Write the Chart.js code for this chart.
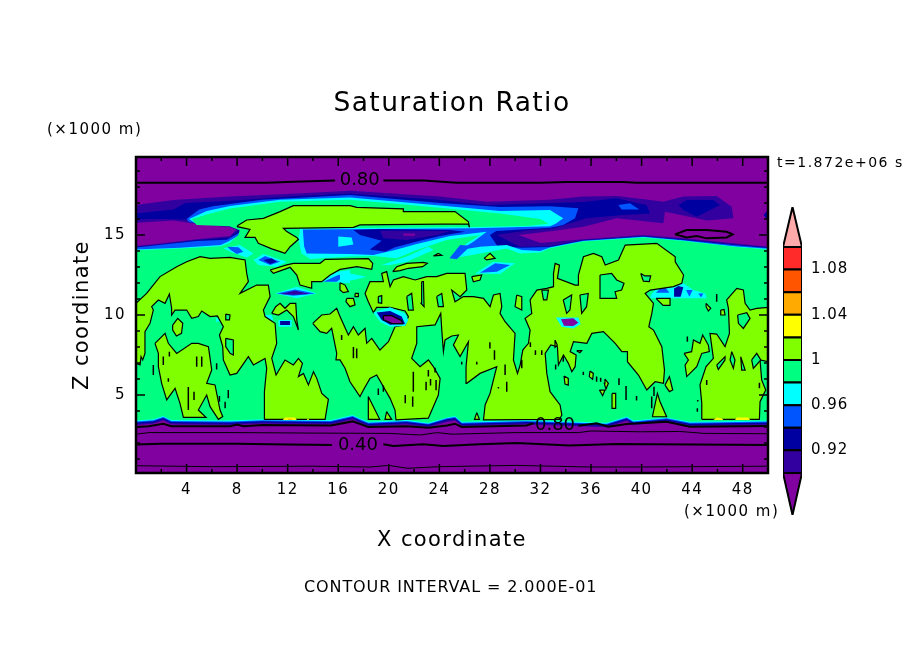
<!DOCTYPE html>
<html>
<head>
<meta charset="utf-8">
<title>Saturation Ratio</title>
<script src="https://cdn.jsdelivr.net/npm/chart.js@4"></script>
<style>
html, body { margin: 0; background: #fff; }
canvas { position: absolute; }
.note { position: absolute; font-family: 'DejaVu Sans'; color: #000; white-space: nowrap; line-height: 1; }
</style>
</head>
<body>
<canvas id="fieldChart" width="904" height="654" style="left:0;top:0"></canvas>
<canvas id="barChart" width="134" height="320" style="left:770px;top:200px"></canvas>
<div class="note" style="left:47px;top:122px;font-size:15px;letter-spacing:1.5px">(×1000 m)</div>
<div class="note" style="left:684px;top:504px;font-size:15px;letter-spacing:1.5px">(×1000 m)</div>
<div class="note" style="left:777px;top:155px;font-size:14px;letter-spacing:1.5px">t=1.872e+06 s</div>
<div class="note" style="left:304px;top:579px;font-size:16px;letter-spacing:0.9px">CONTOUR INTERVAL = 2.000E-01</div>
<script>
// colours of the contour levels
const PURPLE = '#8000a0', INDIGO = '#3300a0', NAVY = '#0000a0', BLUE = '#0055ff', CYAN = '#00ffff';
const GREEN = '#00ff80', LIME = '#80ff00', YELLOW = '#ffff00', ORANGE = '#ffaa00';

// colour bar
const levelEdges = [0.90, 0.92, 0.94, 0.96, 0.98, 1.00, 1.02, 1.04, 1.06, 1.08, 1.10];
const levelColors = [INDIGO, NAVY, BLUE, CYAN, GREEN, LIME, YELLOW, ORANGE, '#ff5500', '#ff2a2a'];
const levelLabels = [0.92, 0.96, 1, 1.04, 1.08];

// lower edge of the bands, above the boundary layer (x in km, one z list per band)
const floorX = [0, 1.37, 2.16, 2.8, 7.44, 10, 15.4, 17.14, 17.7, 18.38, 21.4, 23.13, 24.6, 25.24, 25.77, 30.9, 37.24, 38.82, 39.35, 41.98, 43.83, 50];
const floorGreen = [3.4, 3.48, 3.69, 3.44, 3.4, 3.48, 3.44, 3.75, 3.54, 3.33, 3.44, 3.27, 3.6, 3.69, 3.33, 3.44, 3.27, 3.65, 3.4, 3.6, 3.33, 3.4];
const floorCyan = [3.34, 3.42, 3.63, 3.38, 3.34, 3.42, 3.38, 3.69, 3.48, 3.27, 3.38, 3.21, 3.54, 3.63, 3.27, 3.38, 3.21, 3.59, 3.34, 3.54, 3.27, 3.34];
const floorBlue = [3.28, 3.36, 3.57, 3.32, 3.28, 3.36, 3.32, 3.63, 3.42, 3.21, 3.32, 3.15, 3.48, 3.57, 3.21, 3.32, 3.15, 3.53, 3.28, 3.48, 3.21, 3.28];
const floorNavy = [3.2, 3.28, 3.49, 3.24, 3.2, 3.28, 3.24, 3.55, 3.34, 3.13, 3.24, 3.07, 3.4, 3.49, 3.13, 3.24, 3.07, 3.45, 3.2, 3.4, 3.13, 3.2];
const floorIndigo = [3.12, 3.2, 3.41, 3.16, 3.12, 3.2, 3.16, 3.47, 3.26, 3.05, 3.16, 2.99, 3.32, 3.41, 3.05, 3.16, 2.99, 3.37, 3.12, 3.32, 3.05, 3.12];

// upper edge of each band, left side to right side [x, z]
const indigoTop = [[0,14.31],[2.16,14.48],[4.8,14.73],[7.44,14.94],[7.92,15.31],[7.44,15.48],[4.8,15.69],[2.96,15.9],[0,15.77],[0,16.88],[2.96,17.19],[7.44,17.4],[12.72,17.6],[16.94,17.77],[24.06,17.4],[27.75,17.08],[32.75,17.2],[35.39,17.4],[38.03,17.44],[40.67,17.19],[41.72,17.08],[43.3,17.4],[45.94,17.44],[47.13,16.77],[47.26,16.04],[45.15,15.9],[44.36,16.04],[41.85,16.46],[41.72,15.73],[38.03,16.04],[35.39,15.52],[33,15.25],[30.26,15],[32,14.5],[35.39,14.73],[40.14,15],[43.3,14.79],[47.26,14.48],[50,14.27]];
const navyTop = [[0,14.27],[2.16,14.44],[4.8,14.69],[7.44,14.85],[8.1,15.31],[7.44,15.6],[4.8,15.85],[3.88,15.95],[2.16,16],[0,15.98],[0,16.35],[2.96,16.6],[3.9,17],[7.44,17.14],[12.72,17.44],[16.94,17.6],[24.06,17.19],[27.75,16.88],[32.75,17],[35.39,17.06],[38,17.29],[40.4,16.88],[40.67,16.35],[38.55,16.25],[35.65,16.04],[33,15.4],[31,15.3],[28.54,15],[30.39,14.27],[32.75,14.29],[35.39,14.69],[40.14,14.94],[43.3,14.73],[47.26,14.42],[50,14.23]];
const blueTop = [[0,14.22],[2.16,14.4],[4.8,14.62],[7.2,14.7],[8.3,15.2],[8.2,15.45],[7.4,15.65],[4.2,15.8],[4,16],[5,16.6],[6.1,16.8],[10,17.2],[16.94,17.5],[24.06,17],[28.8,16.75],[32.75,16.8],[35,16.67],[34.73,16.04],[33.8,15.63],[32.75,15.45],[28.5,15.25],[28,15],[28.6,14.3],[30.5,14.2],[32.75,14.25],[35.39,14.65],[40.14,14.9],[43.3,14.69],[47.26,14.38],[50,14.19]];
const cyanTop = [[0,14.1],[3.5,14.2],[6.7,14.37],[7.3,14.6],[8.2,15],[8.3,15.35],[7.4,15.6],[4.7,15.72],[4.2,16],[5.6,16.5],[7.44,16.82],[11.4,17.2],[16.94,17.35],[24.06,16.85],[28.8,16.5],[32.75,16.56],[33.8,16.04],[33.2,15.7],[32.75,15.55],[26.7,15.42],[13.2,15.35],[13.3,14.3],[13.5,13.85],[16.94,13.81],[18.78,13.75],[20.49,14.06],[22.21,14.44],[24.85,14.94],[27.75,15.2],[26.69,14.58],[25.64,14.06],[27.22,14.27],[29.33,14.37],[30.52,14.06],[31.97,14],[32.75,14.22],[35.39,14.63],[40.14,14.88],[43.3,14.65],[47.26,14.3],[50,14.14]];
const greenTop = [[0,14.05],[3.5,14.15],[6.7,14.3],[7.4,14.5],[8.1,15],[8.2,15.3],[7.4,15.55],[4.8,15.62],[4.4,16],[5.86,16.35],[7.44,16.65],[11.4,17.08],[16.94,17.2],[24.06,16.7],[28.8,16.35],[32,16],[32.63,15.7],[30.92,15.56],[26.7,15.5],[13,15.4],[12.85,14.73],[12.95,14.3],[13.1,13.85],[13.8,13.5],[16.94,13.65],[18.78,13.69],[20.63,13.54],[22.21,14.06],[24.58,14.69],[27.22,15],[26.17,14.48],[25.11,13.54],[27.22,13.85],[29.33,14.16],[30.39,13.85],[31.97,13.9],[32.75,14.17],[35.39,14.6],[40.14,14.85],[43.3,14.62],[47.26,14.27],[50,14.1]];

// patches lying on the bands
const navyRight = [[42.91,16.87],[43.57,17.19],[45.68,17.19],[46.2,16.87],[45.15,16.46],[44.36,16.14],[43.3,16.56]];
const navyEdge = [[49.64,16.25],[50,16.56],[50,15.93]];
const blueUpper = [[38.16,16.87],[39.08,16.98],[39.82,16.6],[38.42,16.6]];
const navyCentre = [[17.2,15.31],[19.31,15.37],[24.85,15.31],[26.03,15.2],[24.06,14.93],[22.47,14.64],[20.49,14.23],[19.7,13.96],[18.51,14.1],[19.44,14.64],[17.72,15]];
const indigoCentre = [[19.31,15.27],[24.85,15.25],[23.79,15],[21.42,14.69],[19.57,14.79]];
const purpleCentre = [[21.15,15.1],[22.08,15.1],[22.08,14.96],[21.15,14.96]];
const cyanCentre = [[16,14.9],[17.06,14.85],[17.2,14.4],[16,14.27]];
const blueStripeA = [[25.64,14.37],[26.48,14.33],[25.37,13.48],[24.8,13.54]];
const cyanStripeB = [[26.83,12.6],[28.28,13.33],[29.99,13.23],[28.8,12.56]];
const blueStripeB = [[27.22,12.64],[28.41,13.23],[29.6,13.12],[28.54,12.71]];
const cyanStreak = [[19.44,13.12],[21.42,13.65],[23.13,14.27],[23.53,14.06],[21.42,13.33],[20.1,13.12]];
const cyanBlobA = [[9.29,13.44],[10.08,13.81],[11.93,13.33],[11.13,13.02],[9.68,13.12]];
const blueBlobA = [[9.68,13.44],[10.21,13.69],[11.4,13.33],[10.61,13.13]];
const navyBlobA = [[10.08,13.44],[10.74,13.54],[11.13,13.33],[10.61,13.19]];
const cyanBlobB = [[6.91,14.17],[8.23,14.38],[9.29,13.85],[8.76,13.6],[7.44,13.96]];
const blueBlobB = [[7.23,14.27],[8.1,14.23],[8.5,13.96],[7.97,13.81],[7.44,14.1]];
const cyanBlobC = [[14.56,12.08],[15.88,12.71],[16.94,12.81],[16.94,12]];
const blueBlobC = [[14.83,12.08],[16.01,12.5],[16.68,12.56],[15.88,12.08]];
const cyanBlobD = [[16.14,12.6],[16.93,12.6],[18.25,12.39],[17.2,12.19],[16.14,12.08]];
const cyanBlobE = [[11,11.35],[12.72,11.77],[14.3,11.35],[12.72,11.04]];
const blueBlobE = [[11.13,11.35],[12.58,11.6],[14.17,11.35],[12.45,11.2]];
const indigoBlobE = [[11.4,11.31],[12.58,11.52],[13.77,11.31],[12.45,11.27]];
const cyanBlobF = [[8.63,10.1],[9.95,10.1],[9.95,9.65],[8.63,9.65]];
const blueBlobF = [[8.76,10.02],[9.82,10.02],[9.82,9.73],[8.76,9.73]];
const navyBlobF = [[8.89,9.94],[9.68,9.94],[9.68,9.81],[8.89,9.81]];
const cyanBlobG = [[11.27,9.69],[12.32,9.69],[12.32,9.27],[11.27,9.27]];
const navyBlobG = [[11.4,9.63],[12.19,9.63],[12.19,9.38],[11.4,9.38]];
const cyanBlobH = [[10.21,10],[10.74,10],[10.87,9.65],[10.29,9.65]];
const cyanDotA = [[6.33,9.79],[6.7,9.79],[6.7,9.58],[6.33,9.58]];
const cyanDotB = [[7.31,9.58],[7.7,9.58],[7.7,9.33],[7.31,9.33]];
const cyanDark = [[18.78,10.15],[20.1,10.48],[21.29,10.1],[21.55,9.69],[21.29,9.31],[20.1,9.27],[19.3,9.58]];
const navyDark = [[19.04,10.15],[20.1,10.25],[21.02,9.9],[21.29,9.44],[20.1,9.39],[19.44,9.69]];
const purpleDark = [[19.57,9.96],[20.23,9.96],[21.02,9.64],[21.1,9.44],[20.23,9.48],[19.62,9.69]];
const cyanRound = [[33.22,9.85],[35,9.85],[35.18,9.44],[34.6,9.16],[33.67,9.27]];
const purpleRound = [[33.62,9.73],[34.6,9.79],[35,9.52],[34.6,9.31],[33.86,9.33]];
const cyanCluster = [[40.8,11.35],[41.72,11.98],[42.64,11.87],[43.3,11.98],[44.1,11.56],[45.02,11.35],[45.15,11.04],[43.3,11.04],[40.67,11.04]];
const blueCluster = [[41.14,11.39],[41.72,11.87],[42.2,11.39]];
const navyCluster = [[42.57,11.66],[42.91,11.81],[43.3,11.73],[43.09,11.14],[42.57,11.14]];
const blueDotA = [[43.51,11.56],[44.04,11.56],[43.78,11.14]];
const blueDotB = [[44.49,11.35],[44.89,11.35],[44.7,11.1]];

// contours around the lime areas (ratio above 1)
const limeAnvil = [[8.02,15.58],[8.76,15.94],[10.08,16.04],[11.4,16.46],[12.45,16.83],[16.94,16.83],[17.46,16.73],[21.15,16.63],[21.15,16.46],[25.24,16.46],[26.3,15.83],[26.38,15.48],[26.3,15.69],[17.72,15.63],[17.2,15.48],[11.66,15.42],[11.93,15.21],[12.72,14.85],[12.85,14.73],[12.19,14.27],[11.79,13.85],[11.4,13.96],[10.74,14.13],[9.68,14.48],[9.42,14.85],[8.63,14.85],[9.02,15.35],[8.02,15.52]];
const limeWest = [[0,6.98],[0.32,6.88],[0.4,7.4],[0.53,7.19],[0.71,7.6],[0.71,8.96],[1.11,9.48],[1.37,10.31],[1.24,10.52],[1.77,10.94],[2.3,10.73],[2.64,11.31],[2.82,10.42],[2.82,10],[3.09,10.31],[4.01,10.31],[4.41,9.79],[4.93,9.9],[5.2,10.25],[5.86,9.9],[6.44,9.94],[6.91,9.27],[6.6,8.75],[6.86,8.02],[6.91,7.19],[7.44,6.25],[7.97,6.35],[8.89,7.4],[9.29,6.88],[10.21,7.29],[10.34,6.67],[10.16,5.21],[10.16,3.48],[14.96,3.48],[15.22,4.73],[14.7,5.1],[14.3,6.04],[14.04,6.46],[13.64,5.63],[13.25,6.35],[12.85,6.15],[13.17,6.98],[12.85,7.29],[12.45,6.88],[11.79,7.19],[11.08,6.25],[10.74,7.29],[11.13,8.23],[11,9.48],[10.21,9.9],[10.08,10.31],[10.61,11.15],[10.47,11.87],[9.55,11.87],[8.23,11.35],[8.89,12.08],[8.76,12.6],[8.63,13.44],[7.44,13.6],[5.86,13.54],[5.07,13.65],[4.01,13.33],[3.22,13.02],[1.9,12.4],[0.84,11.35],[0,10.73]];
const limeSecond = [[1.5,8.23],[2.3,8.85],[2.56,8.23],[3.22,7.6],[4.41,8.23],[4.93,8.23],[5.73,8.02],[5.99,6.56],[5.59,5.73],[6.25,5.63],[6.65,4.06],[6.86,3.65],[6.52,3.48],[5.86,4.27],[5.59,5],[4.93,4.06],[5.54,3.6],[3.75,3.6],[3.48,4.48],[3.09,5.42],[2.43,4.69],[2.03,5.73],[1.77,6.77],[1.77,7.6]];
const limeCentre = [[13.98,9.48],[14.69,10],[15.35,10.06],[15.88,10.42],[16.14,9.9],[16.8,8.75],[17.2,9.27],[17.59,8.75],[18.12,9.17],[18.25,8.23],[18.65,8.54],[19.3,7.81],[19.97,8.33],[20.49,9.27],[21.29,9.38],[21.55,9.9],[21.29,10.25],[20.1,10.48],[19.04,10.48],[18.78,10.15],[18.38,10.83],[18.12,11.35],[18.51,12.08],[19.57,12.08],[19.44,12.6],[19.83,12.71],[20.1,11.77],[20.36,12.19],[21.15,12.4],[22.08,12.19],[23,12.4],[23.79,12.4],[24.58,12.6],[26.03,12.6],[26.17,11.56],[25.64,11.15],[24.98,11.56],[25.24,10.83],[25.9,11.15],[26.69,11.15],[27.49,11.04],[28.01,10.52],[28.28,11.25],[28.8,11.35],[28.94,10.52],[28.8,10.1],[29.2,9.58],[29.99,8.85],[29.86,7.19],[30.18,6.35],[30.39,6.87],[30.6,7.81],[31.05,8.23],[31.18,9.06],[30.78,9.79],[31.31,10.1],[31.18,10.94],[31.71,11.56],[32.5,11.66],[33.03,11.77],[33.03,12.6],[33.16,13.23],[33.5,13.12],[33.34,12.29],[34.74,11.87],[35,11.87],[35,12.5],[35.4,13.64],[36.19,13.85],[36.85,13.64],[37.12,13.12],[38.17,13.44],[38.7,14.37],[41.2,14.48],[42.66,13.64],[42.66,13.33],[43.32,12.5],[43.18,11.98],[42.53,11.77],[40.68,11.56],[40.28,11.35],[40.94,10.73],[40.81,10.1],[40.57,9.27],[40.94,9.06],[41.6,8.02],[41.81,6.56],[41.73,5.73],[41.07,5.83],[40.41,5.31],[39.75,6.25],[38.88,7.08],[38.88,7.71],[38.44,7.71],[37.91,8.23],[36.98,8.96],[36.06,8.85],[35.67,8.23],[34.61,8.33],[34.35,7.71],[34.82,7.5],[34.74,6.77],[34.48,6.46],[34.21,6.98],[33.82,7.5],[33.42,6.87],[33.34,8.02],[32.82,8.13],[32.37,7.6],[32.5,6.35],[32.76,5.21],[33.55,4.38],[33.69,3.75],[33.5,3.48],[27.49,3.44],[27.62,4.38],[28.01,5.1],[28.54,6.77],[27.22,6.35],[26.17,5.73],[26.11,6.77],[26.3,8.33],[25.64,7.4],[25.11,8.13],[25.51,8.75],[24.98,8.69],[24.45,8.44],[24.32,7.71],[24.19,9.06],[24.11,10.1],[23.66,9.38],[22.21,9.27],[22.21,8.23],[21.81,7.29],[22.47,6.77],[23.13,7.19],[23.53,6.77],[24.06,6.04],[23.92,5],[23.13,3.55],[20.57,3.44],[20.49,4.06],[20.1,4.79],[19.04,6.25],[18.51,6.04],[17.99,5.31],[17.72,4.9],[16.93,5.83],[16.54,6.67],[16.14,7.19],[15.82,7.19],[15.88,7.6],[15.48,9.17],[15.09,8.85],[14.56,8.96]];
const limeEast = [[44.76,3.48],[44.76,4.48],[44.62,5.63],[45.1,6.77],[45.68,7.29],[45.41,8.85],[45.94,8.81],[46.6,8.02],[46.95,8.85],[46.87,10.41],[46.73,10.94],[47.53,11.66],[48.05,11.56],[48.19,10.73],[48.58,10.31],[49.11,10.41],[50,10.48],[50,7.08],[49.37,7.19],[49.5,5.94],[49.82,5.31],[49.37,4.58],[49.32,3.48]];
const limeUpperMid = [[10.61,12.81],[11.93,13.13],[12.45,13.23],[14.56,13.23],[14.96,13.48],[18.39,13.52],[18.73,13.23],[18.65,12.85],[17.47,13.02],[16.15,12.85],[15.36,12.5],[14.7,12.08],[13.9,12.08],[13.9,11.67],[12.98,11.87],[12.72,12.5],[12.19,12.98],[10.87,12.6]];
const limeIslands = [
  [[2.9,9.37],[3.3,9.79],[3.7,9.48],[3.6,8.85],[3.2,8.69],[2.9,9.06]],
  [[10.74,10.1],[11.05,10.52],[11.4,10.73],[11.79,10.42],[12.19,10.73],[12.64,10.73],[12.72,9.69],[12.85,9.06],[12.45,9.9],[11.93,10.31],[11.27,10]],
  [[20.31,12.71],[20.63,13.02],[21.42,13.23],[22.74,13.29],[23.05,13.23],[22.68,13.02],[21.55,12.92],[20.89,12.77]],
  [[27.54,13.54],[28.01,13.85],[28.41,13.54],[27.75,13.44]],
  [[23.53,13.69],[23.92,13.85],[24.19,13.73]],
  [[26.56,12.4],[27.35,12.5],[27.22,12.19],[26.69,12.08]],
  [[16.14,12.02],[16.54,11.87],[16.8,11.46],[16.4,11.4],[16.14,11.56]],
  [[16.67,11.04],[17.2,11.04],[17.33,10.63],[16.93,10.52],[16.61,10.83]],
  [[30.12,11.25],[30.52,11.15],[30.52,10.31],[29.99,10.52]],
  [[17.33,11.35],[17.59,11.35],[17.59,11.15],[17.33,11.15]],
  [[41.14,11.04],[42.25,11.04],[42.25,10.6],[41.7,10.6]],
  [[45.1,10.73],[45.47,10.42],[45.28,10.25],[45.1,10.52]],
  [[46.26,10.31],[46.52,10.35],[46.6,10],[46.26,10]],
  [[43.36,7.6],[43.96,7.71],[44.1,8.44],[44.62,8.23],[44.83,8.75],[45.28,8.12],[45.36,7.71],[44.76,7.6],[44.36,6.77],[43.57,6.15],[43.44,6.87],[43.7,7.19]],
  [[40.85,3.64],[41.25,5.1],[41.46,4.58],[41.98,3.64]],
  [[41.85,5.62],[42.2,6.15],[42.46,5.31],[42.2,5.21]],
  [[37.66,5.1],[37.95,5.1],[37.95,4.17],[37.71,4.17]],
  [[35.92,6.5],[36.18,6.35],[36.13,5.98],[35.86,6.15]],
  [[37.1,6],[37.37,5.73],[37.18,5.37],[37.05,5.73]],
  [[33.86,6.19],[34.2,6.04],[34.2,5.62],[33.94,5.68]],
  [[36.66,5.31],[37.1,5.31],[36.92,4.96]],
  [[34.86,7.77],[35.26,7.77],[35.12,7.64]],
  [[33.15,8.44],[33.33,8.12],[33.15,7.98]],
  [[18.38,4.9],[19.28,3.48],[18.38,3.48]],
  [[19.83,3.96],[20.23,3.48],[19.7,3.48]],
  [[26.96,3.9],[27.17,3.48],[26.78,3.48]]
];
// contours around green holes inside the lime areas
const greenHoles = [
  [[7.1,8.54],[7.7,8.44],[7.7,7.5],[7.44,7.6],[7.1,8.02]],
  [[7.1,10.06],[7.44,10],[7.39,9.69],[7.1,9.69]],
  [[19.17,11.15],[19.44,11.21],[19.44,10.73],[19.17,10.77]],
  [[21.42,11.15],[21.81,11.35],[21.94,10.31],[21.55,10.31]],
  [[22.6,12.08],[22.74,12.08],[22.79,10.52],[22.55,10.73]],
  [[23.79,11.15],[24.19,11.35],[24.32,10.52],[23.92,10.52]],
  [[32.1,11.56],[32.63,11.56],[32.5,10.94],[32.24,10.94]],
  [[36.71,12.5],[37.63,12.6],[38.03,12.19],[38.61,11.98],[38.42,11.56],[37.9,11.46],[38.03,11.04],[36.71,11.04]],
  [[39.93,12.6],[40.27,12.44],[40.72,12.44],[40.61,12.08],[40.14,12.12]],
  [[33.8,10.94],[34.47,11.25],[34.33,10.31],[34.07,10.1]],
  [[35.12,11.25],[35.78,11.35],[35.65,10.52],[35.26,10.1]],
  [[47.6,10],[48.32,10.14],[48.58,9.79],[48.05,9.16],[47.66,9.48]],
  [[45.94,6.87],[46.6,7.39],[46.6,7.19],[46.07,6.6]],
  [[47.13,7.71],[47.39,7.19],[47.26,6.66],[47,7.19]],
  [[48.71,7.19],[49.11,7.6],[49.43,7.19],[48.84,6.66]],
  [[47.84,7.39],[48.19,6.56],[47.92,6.56]]
];
// short closed contours, too thin to show a fill [x, z from, z to]
const specks = [[2.16,7.4,6.88],[1.37,6.88,6.25],[2.64,7.7,7.4],[4.8,7.4,6.77],[5.2,7.4,6.77],[2.56,6.04,5.83],[4.14,5.5,4.06],[4.59,5.2,4.69],[6.6,4.94,4.58],[7.05,4.58,4.17],[6.38,6.98,6.6],[7.3,5.31,4.8],[16.27,8.75,8.44],[17.2,8,7.3],[17.46,7.9,7.3],[19.17,5.4,5],[19.57,5.6,5.2],[21.3,5,4.48],[21.89,4.9,4.27],[21.94,6.46,5.2],[22.95,5.83,5.3],[23.3,6,5.6],[23.66,6.7,6.4],[23.74,5.94,5.3],[23.13,6.56,6.15],[25.77,7.08,6.9],[26.96,7.08,6.9],[28.36,7.8,7.2],[28,8.3,7.9],[29.2,6.9,6.25],[29.33,5.83,5.2],[28.67,5.5,5.4],[30.52,7.2,6.67],[31.2,8.3,8],[31.6,7.8,7.5],[32.1,7.8,7.5],[33.8,7.4,7.08],[33.2,6.9,6.6],[35.39,6.46,6.25],[36.44,6.15,5.83],[36.76,6.08,5.83],[38.21,6.04,5.63],[38.77,5.56,4.69],[39.6,4.94,4.65],[40.8,4.9,4.17],[40.98,5.52,4.94],[43.62,8.65,8.33],[44.44,4.69,4.6],[44.41,4.17,3.96],[45.15,5.94,5.63],[45.94,11.31,10.83],[49.32,5.77,5.42]];
// small areas above the next levels, on the boundary layer
const yellowPatches = [
  [[11.61,3.44],[11.8,3.6],[12.58,3.6],[12.72,3.44]],
  [[13.51,3.44],[13.6,3.55],[13.7,3.44]],
  [[45.68,3.44],[45.94,3.6],[46.34,3.54],[46.47,3.44]],
  [[47.39,3.44],[47.53,3.6],[48.45,3.6],[48.58,3.44]]
];
const orangePatches = [[[12,3.52],[12.35,3.52],[12.35,3.46],[12,3.46]]];

// lines of the 0.2 contour interval
const lineTopA = [[0,18.27],[10.34,18.27],[12.45,18.33],[15.75,18.4]];
const lineTopB = [[19.57,18.4],[22.74,18.4],[25.37,18.27],[32,18.27],[34.07,18.31],[38.55,18.31],[39.61,18.27],[50,18.27]];
const loopRight = [[42.64,15.04],[43.57,15.31],[45.15,15.31],[46.73,15.2],[47.2,15.04],[46.73,14.85],[45.15,14.79],[44.36,14.94],[43.57,14.85]];
const line08a = [[0,3],[1,3.05],[2.16,3.2],[2.8,3.05],[7.44,3.05],[8,3.15],[8.5,3.05],[10,3.12],[15.4,3.1],[17.14,3.35],[18.38,3],[21.4,3.05],[23.13,2.95],[24.6,3.1],[25.24,3.2],[25.77,3],[30.9,3.1],[31.44,3.23]];
const line08b = [[35,3.08],[36.44,3.23],[37.37,3.02],[38.82,3.19],[41.98,3.33],[43.83,3.02],[50,3.06]];
const line06 = [[0,2.55],[1,2.65],[8,2.65],[14,2.62],[20,2.6],[22.5,2.5],[23.8,2.65],[25,2.55],[30,2.65],[35,2.65],[36,2.75],[40,2.7],[43,2.72],[45,2.6],[50,2.58]];
const line04a = [[0,1.9],[2,1.95],[8,1.95],[12,1.9],[15.5,1.88]];
const line04b = [[19.57,1.92],[20.36,1.81],[22.74,1.92],[24.32,1.81],[27.2,1.92],[30.12,2],[34.3,1.85],[38,1.94],[50,1.87]];
const line02 = [[0,0.58],[6,0.52],[14,0.55],[18.5,0.5],[20,0.6],[21.5,0.42],[24,0.52],[30,0.6],[36,0.5],[40,0.5],[50,0.55]];
const contourLabels = [['0.80',17.7,18.43],['0.80',33.15,3.12],['0.40',17.56,1.87]];

const xTicks = [4, 8, 12, 16, 20, 24, 28, 32, 36, 40, 44, 48];
const zTicks = [5, 10, 15];

const toPoints = a => a.map(([x, y]) => ({x, y}));
const band = (top, floor) => top.concat(floorX.map((x, i) => [x, floor[i]]).reverse());

function patch(color, a, borderWidth = 0) {
    return {
        data: toPoints(a.concat([a[0]])),
        showLine: true, fill: 'shape', tension: 0, pointRadius: 0,
        backgroundColor: color, borderColor: borderWidth ? '#000' : color, borderWidth
    };
}
function line(a, borderWidth) {
    return {
        data: toPoints(a),
        showLine: true, fill: false, tension: 0, pointRadius: 0,
        borderColor: '#000', borderWidth
    };
}

// painted in this order
const layers = [
    patch(INDIGO, band(indigoTop, floorIndigo)),
    patch(NAVY, band(navyTop, floorNavy)),
    patch(NAVY, navyRight), patch(NAVY, navyEdge), patch(BLUE, blueUpper),
    patch(BLUE, band(blueTop, floorBlue)),
    patch(CYAN, band(cyanTop, floorCyan)),
    patch(GREEN, band(greenTop, floorGreen)),
    patch(NAVY, navyCentre), patch(INDIGO, indigoCentre), patch(PURPLE, purpleCentre),
    patch(CYAN, cyanCentre), patch(BLUE, blueStripeA), patch(CYAN, cyanStripeB), patch(BLUE, blueStripeB),
    patch(CYAN, cyanStreak), patch(CYAN, cyanBlobA), patch(BLUE, blueBlobA), patch(NAVY, navyBlobA),
    patch(CYAN, cyanBlobB), patch(BLUE, blueBlobB), patch(CYAN, cyanBlobC), patch(BLUE, blueBlobC),
    patch(CYAN, cyanBlobD), patch(CYAN, cyanBlobE), patch(BLUE, blueBlobE), patch(INDIGO, indigoBlobE),
    patch(CYAN, cyanBlobF), patch(BLUE, blueBlobF), patch(NAVY, navyBlobF),
    patch(CYAN, cyanBlobG), patch(NAVY, navyBlobG), patch(CYAN, cyanBlobH),
    patch(CYAN, cyanDotA), patch(CYAN, cyanDotB),
    patch(CYAN, cyanCluster), patch(BLUE, blueCluster), patch(NAVY, navyCluster),
    patch(BLUE, blueDotA), patch(BLUE, blueDotB),
    patch(LIME, limeAnvil, 1.2), patch(LIME, limeWest, 1.2), patch(LIME, limeSecond, 1.2),
    patch(LIME, limeCentre, 1.2), patch(LIME, limeEast, 1.2), patch(LIME, limeUpperMid, 1.2),
    ...limeIslands.map(a => patch(LIME, a, 1.2)),
    ...greenHoles.map(a => patch(GREEN, a, 1.2)),
    ...yellowPatches.map(a => patch(YELLOW, a)),
    ...orangePatches.map(a => patch(ORANGE, a)),
    patch(CYAN, cyanDark), patch(NAVY, navyDark), patch(PURPLE, purpleDark, 1.2),
    patch(CYAN, cyanRound), patch(PURPLE, purpleRound, 0),
    line(specks.flatMap(([x, z1, z2]) => [[x, z1], [x, z2], [x, null]]), 1.5),
    line(lineTopA, 2), line(lineTopB, 2),
    line(loopRight.concat([loopRight[0]]), 2),
    line(line08a, 2), line(line08b, 2), line(line06, 1), line(line04a, 2), line(line04b, 2), line(line02, 1)
];

// wider letter spacing on all chart text, the reference font runs wide
const wideText = spacing => ({
    id: 'wideText',
    beforeDraw(chart) { chart.ctx.letterSpacing = spacing; }
});

// plot background, inward tick marks, frame and the labels on the contour lines
const fieldDecor = {
    id: 'fieldDecor',
    beforeDatasetsDraw(chart) {
        const {ctx, chartArea: a} = chart;
        ctx.fillStyle = PURPLE;
        ctx.fillRect(a.left, a.top, a.width, a.height);
    },
    afterDatasetsDraw(chart) {
        const {ctx, chartArea: a, scales} = chart;
        ctx.save();
        ctx.strokeStyle = '#000';
        ctx.lineWidth = 1.5;
        ctx.beginPath();
        for (let v = 2; v < 50; v += 2) {
            const px = scales.x.getPixelForValue(v), len = v % 4 === 0 ? 9 : 4;
            ctx.moveTo(px, a.top); ctx.lineTo(px, a.top + len);
            ctx.moveTo(px, a.bottom); ctx.lineTo(px, a.bottom - len);
        }
        for (let v = 1; v < 20; v++) {
            const py = scales.y.getPixelForValue(v), len = v % 5 === 0 ? 9 : 4;
            ctx.moveTo(a.left, py); ctx.lineTo(a.left + len, py);
            ctx.moveTo(a.right, py); ctx.lineTo(a.right - len, py);
        }
        ctx.stroke();
        ctx.lineWidth = 2.5;
        ctx.strokeRect(a.left, a.top, a.width, a.height);
        ctx.fillStyle = '#000';
        ctx.letterSpacing = '0px';
        ctx.font = "18px 'DejaVu Sans'";
        ctx.textAlign = 'center';
        ctx.textBaseline = 'middle';
        contourLabels.forEach(([text, x, z]) => {
            ctx.fillText(text, scales.x.getPixelForValue(x), scales.y.getPixelForValue(z));
        });
        ctx.restore();
    }
};

new Chart(document.getElementById('fieldChart'), {
    type: 'scatter',
    data: {datasets: layers.slice().reverse()},
    plugins: [wideText('1.4px'), fieldDecor],
    options: {
        responsive: false, animation: false, devicePixelRatio: 1, events: [],
        layout: {autoPadding: false},
        plugins: {
            legend: {display: false}, tooltip: {enabled: false},
            title: {
                display: true, text: 'Saturation Ratio', color: '#000',
                font: {family: 'DejaVu Sans', size: 26.5, weight: 'normal', lineHeight: 1},
                padding: {top: 91, bottom: 39.5}
            }
        },
        scales: {
            x: {
                type: 'linear', min: 0, max: 50,
                afterBuildTicks: axis => { axis.ticks = xTicks.map(value => ({value})); },
                afterFit: axis => { axis.height = 181; },
                grid: {display: false, drawTicks: false}, border: {display: false},
                ticks: {color: '#000', font: {family: 'DejaVu Sans', size: 15}, padding: 8, maxRotation: 0, autoSkip: false},
                title: {display: true, text: 'X coordinate', color: '#000', font: {family: 'DejaVu Sans', size: 21}, padding: {top: 0, bottom: 101}}
            },
            y: {
                type: 'linear', min: 0.125, max: 19.875,
                afterBuildTicks: axis => { axis.ticks = zTicks.map(value => ({value})); },
                afterFit: axis => { axis.width = 136; },
                grid: {display: false, drawTicks: false}, border: {display: false},
                ticks: {color: '#000', font: {family: 'DejaVu Sans', size: 15}, padding: 10},
                title: {display: true, text: 'Z coordinate', color: '#000', font: {family: 'DejaVu Sans', size: 21}, padding: {top: 70, bottom: 0}}
            },
            // empty axis that keeps room for the colour bar
            yRight: {
                axis: 'y', type: 'linear', position: 'right',
                afterFit: axis => { axis.width = 136; },
                grid: {display: false}, border: {display: false}, ticks: {display: false}
            }
        }
    }
});

// colour bar: cells and the two end arrows
const upperArrow = [[0, 1.10], [0.5, 1.1354], [1, 1.10]];
const lowerArrow = [[0, 0.90], [0.5, 0.8628], [1, 0.90]];
const barSets = [
    patch('#ffaaaa', upperArrow, 2),
    patch(PURPLE, lowerArrow, 2),
    ...levelColors.map((c, i) => patch(c, [[0, levelEdges[i]], [1, levelEdges[i]], [1, levelEdges[i + 1]], [0, levelEdges[i + 1]]], 2))
];

new Chart(document.getElementById('barChart'), {
    type: 'scatter',
    data: {datasets: barSets},
    plugins: [wideText('1px')],
    options: {
        responsive: false, animation: false, devicePixelRatio: 1, events: [],
        layout: {autoPadding: false, padding: {left: 13, top: 7, bottom: 5}},
        plugins: {legend: {display: false}, tooltip: {enabled: false}},
        scales: {
            x: {type: 'linear', min: 0, max: 1, display: false},
            y: {
                type: 'linear', position: 'right', min: 0.8628, max: 1.1354,
                afterBuildTicks: axis => { axis.ticks = levelLabels.map(value => ({value})); },
                // the labels sit inside the bar's range, so no room is needed for them at the ends
                afterFit: axis => { axis.width = 102; axis.paddingTop = 0; axis.paddingBottom = 0; },
                grid: {display: false, drawTicks: false}, border: {display: false},
                ticks: {color: '#000', font: {family: 'DejaVu Sans', size: 15}, padding: 9, callback: v => String(v)}
            }
        }
    }
});
</script>
</body>
</html>
